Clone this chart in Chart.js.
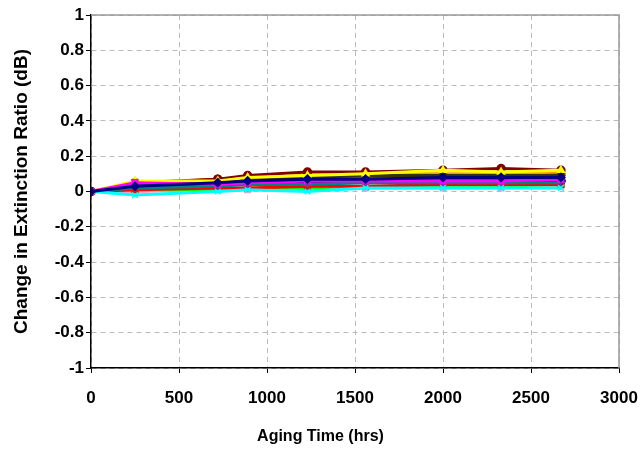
<!DOCTYPE html>
<html>
<head>
<meta charset="utf-8">
<script src="https://cdn.jsdelivr.net/npm/chart.js@4/dist/chart.umd.min.js"></script>
<style>
  html, body { margin: 0; padding: 0; background: #fff; }
  #wrap { width: 641px; height: 449px; }
</style>
</head>
<body>
<div id="wrap"><canvas id="c" width="641" height="449"></canvas></div>
<script>
// aging time (hrs) where the devices were measured
const hours = [0, 250, 720, 890, 1230, 1560, 2000, 2330, 2670];

// change in extinction ratio (dB) per device
const dev1  = [0, 0.03, 0.05, 0.06, 0.07, 0.07, 0.08, 0.08, 0.08];
const dev2  = [0, 0.05, 0.04, 0.05, 0.06, 0.06, 0.06, 0.06, 0.07];
const dev3  = [0, 0.06, 0.06, 0.08, 0.09, 0.10, 0.12, 0.11, 0.12];
const dev4  = [0, -0.02, 0.00, 0.01, 0.00, 0.02, 0.02, 0.02, 0.02];
const dev5  = [0, 0.04, 0.05, 0.06, 0.06, 0.07, 0.07, 0.07, 0.07];
const dev6  = [0, 0.05, 0.07, 0.09, 0.11, 0.11, 0.12, 0.13, 0.12];
const dev7  = [0, 0.02, 0.03, 0.04, 0.04, 0.05, 0.05, 0.05, 0.05];
const dev8  = [0, 0.03, 0.04, 0.05, 0.06, 0.06, 0.06, 0.07, 0.06];
const dev9  = [0, 0.04, 0.07, 0.08, 0.08, 0.09, 0.09, 0.09, 0.09];
const dev10 = [0, 0.01, 0.02, 0.02, 0.03, 0.03, 0.04, 0.04, 0.04];
const dev11 = [0, 0.01, 0.01, 0.02, 0.02, 0.03, 0.03, 0.03, 0.04];
const dev12 = [0, 0.05, 0.07, 0.08, 0.09, 0.10, 0.10, 0.10, 0.11];
const dev13 = [0, 0.02, 0.04, 0.05, 0.05, 0.06, 0.06, 0.06, 0.06];
const dev14 = [0, 0.00, 0.01, 0.01, 0.01, 0.02, 0.02, 0.02, 0.03];
const dev15 = [0, 0.03, 0.05, 0.06, 0.07, 0.08, 0.08, 0.08, 0.08];
const dev16 = [0, 0.04, 0.06, 0.07, 0.08, 0.08, 0.09, 0.09, 0.10];

const seriesValues = [dev1, dev2, dev3, dev4, dev5, dev6, dev7, dev8,
                      dev9, dev10, dev11, dev12, dev13, dev14, dev15, dev16];
const seriesColors = ['#000080', '#ff00ff', '#ffff00', '#00ffff', '#800080', '#800000',
                      '#008080', '#0000ff', '#333300', '#ff0000', '#00ff00', '#ff9900',
                      '#000000', '#ff99cc', '#808000', '#993300'];
const seriesMarkers = ['rectRot', 'rect', 'triangle', 'crossRot', 'star', 'circle',
                       'cross', 'rectRot', 'rectRot', 'rect', 'triangle', 'rect',
                       'circle', 'rect', 'triangle', 'rectRot'];

// y tick values: -1 .. 1
const yTicks = [-1, -0.8, -0.6, -0.4, -0.2, 0, 0.2, 0.4, 0.6, 0.8, 1];

const datasets = seriesValues.map((vals, i) => ({
    label: 'Device ' + (i + 1),
    data: hours.map((h, j) => ({ x: h, y: vals[j] })),
    borderColor: seriesColors[i],
    backgroundColor: seriesColors[i],
    borderWidth: 3,
    pointStyle: seriesMarkers[i],
    pointRadius: 4,
    pointBorderWidth: 1.5,
    fill: false,
    tension: 0
}));

// gray frame on the top and right of the plot area
const frame = {
    id: 'frame',
    afterDraw(chart) {
        const { ctx, chartArea: a } = chart;
        ctx.save();
        ctx.strokeStyle = '#999';
        ctx.lineWidth = 1.5;
        ctx.beginPath();
        ctx.moveTo(a.left, a.top);
        ctx.lineTo(a.right, a.top);
        ctx.lineTo(a.right, a.bottom);
        ctx.stroke();
        ctx.restore();
    }
};

const tickFont = { family: 'Liberation Sans, Arial, sans-serif', size: 17, weight: 'bold' };

new Chart(document.getElementById('c'), {
    type: 'line',
    data: { datasets },
    plugins: [frame],
    options: {
        responsive: false,
        animation: false,
        layout: { padding: { left: 0, right: 0, top: 15, bottom: 0 } },
        plugins: {
            legend: { display: false },
            tooltip: { enabled: false },
            // x axis title, centred on the whole chart like the original
            title: {
                display: true, position: 'bottom', text: 'Aging Time (hrs)', color: '#000',
                font: { family: 'Liberation Sans, Arial, sans-serif', size: 16, weight: 'bold' },
                padding: { top: 0, bottom: 3 }
            }
        },
        scales: {
            x: {
                type: 'linear',
                min: 0, max: 3000,
                afterFit: s => { s.height = 58.8; s.paddingLeft = 0; s.paddingRight = 22; },
                ticks: { stepSize: 500, color: '#000', font: tickFont, padding: 15, maxRotation: 0,
                         callback: v => String(v) },
                grid: { color: '#bbb', lineWidth: 1, tickColor: '#000', tickLength: 5, tickBorderDash: [] },
                border: { color: '#000', width: 1.5, dash: [5, 4] }
            },
            y: {
                min: -1, max: 1,
                afterFit: s => { s.width = 91; s.paddingTop = 0; s.paddingBottom = 0; },
                afterBuildTicks: s => { s.ticks = yTicks.map(v => ({ value: v })); },
                ticks: {
                    color: '#000', font: tickFont, padding: 2,
                    callback: v => String(Math.round(v * 10) / 10)
                },
                grid: { color: '#bbb', lineWidth: 1, tickColor: '#000', tickLength: 5, tickBorderDash: [] },
                border: { color: '#000', width: 1.5, dash: [5, 4] },
                title: {
                    display: true, text: 'Change in Extinction Ratio (dB)', color: '#000',
                    font: { family: 'Liberation Sans, Arial, sans-serif', size: 19, weight: 'bold' },
                    padding: { top: 10, bottom: 0 }
                }
            }
        }
    }
});
</script>
</body>
</html>
